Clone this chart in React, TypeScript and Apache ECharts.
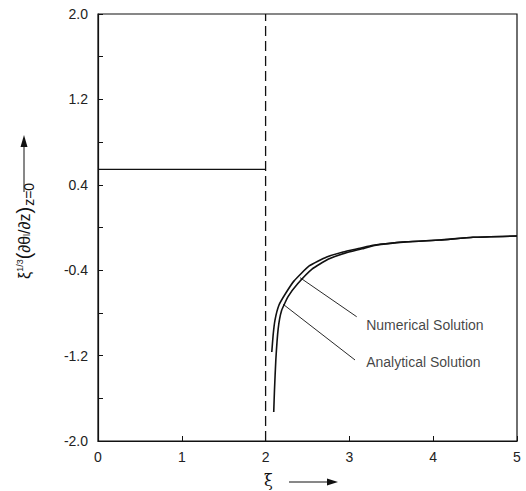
import React, { useEffect, useRef } from "react";
import * as echarts from "echarts";

// Data
const stepLine: [number, number][] = [
  [0, 0.545],
  [2, 0.545],
];
const asymptote: [number, number][] = [
  [2, -2],
  [2, 2],
];
const numericalCurve: [number, number][] = [
  [2.074, -1.166],
  [2.09, -1.007],
  [2.112, -0.867],
  [2.16, -0.726],
  [2.24, -0.616],
  [2.34, -0.5],
  [2.52, -0.36],
  [2.729, -0.276],
  [2.924, -0.229],
  [3.126, -0.194],
  [3.28, -0.166],
  [3.68, -0.134],
  [4.08, -0.117],
  [4.475, -0.092],
  [5.0, -0.08],
];
const analyticalCurve: [number, number][] = [
  [2.097, -1.728],
  [2.106, -1.522],
  [2.122, -1.241],
  [2.15, -0.95],
  [2.19, -0.78],
  [2.27, -0.646],
  [2.38, -0.53],
  [2.554, -0.39],
  [2.745, -0.298],
  [2.947, -0.24],
  [3.15, -0.2],
  [3.3, -0.168],
  [3.68, -0.135],
  [4.08, -0.117],
  [4.475, -0.092],
  [5.0, -0.08],
];
const numericalPointer: [number, number][] = [
  [2.411, -0.47],
  [3.087, -0.836],
];
const analyticalPointer: [number, number][] = [
  [2.211, -0.72],
  [3.067, -1.241],
];
const labelTexts = ["Numerical Solution", "Analytical Solution"];
const labelPositions: [number, number][] = [
  [3.2, -0.913],
  [3.2, -1.257],
];
const yLabeled = [2.0, 1.2, 0.4, -0.4, -1.2, -2.0];

const FONT = "'Liberation Sans', Arial, Helvetica, sans-serif";

export default function App() {
  const ref = useRef<HTMLDivElement>(null);
  useEffect(() => {
    if (!ref.current) return;
    const chart = echarts.init(ref.current, undefined, { renderer: "svg" });
    const black = "#111";
    const option: any = {
      animation: false,
      backgroundColor: "#fff",
      grid: {
        left: 98,
        right: 9,
        top: 14,
        bottom: 50,
        show: true,
        borderColor: black,
        borderWidth: 1.2,
        containLabel: false,
        outerBoundsMode: "none",
      },
      xAxis: {
        type: "value",
        min: 0,
        max: 5,
        interval: 1,
        axisLine: { show: true, onZero: false, lineStyle: { color: black, width: 1.2 } },
        axisTick: { show: true, inside: true, length: 5, lineStyle: { color: black } },
        splitLine: { show: false },
        axisLabel: { color: "#222", fontSize: 14, fontFamily: FONT, margin: 9 },
      },
      yAxis: {
        type: "value",
        min: -2,
        max: 2,
        interval: 0.4,
        axisLine: { show: true, onZero: false, lineStyle: { color: black, width: 1.2 } },
        axisTick: { show: true, inside: true, length: 5, lineStyle: { color: black } },
        splitLine: { show: false },
        axisLabel: {
          color: "#222",
          fontSize: 14,
          fontFamily: FONT,
          margin: 10,
          formatter: (v: number) => {
            const hit = yLabeled.find((t) => Math.abs(t - v) < 1e-6);
            return hit === undefined ? "" : hit.toFixed(1);
          },
        },
      },
      series: [
        {
          type: "line",
          data: stepLine,
          symbol: "none",
          lineStyle: { color: black, width: 1.3 },
        },
        {
          type: "line",
          data: asymptote,
          symbol: "none",
          lineStyle: { color: black, width: 1.3, type: [10, 5] },
        },
        {
          type: "line",
          data: numericalCurve,
          symbol: "none",
          smooth: 0.15,
          lineStyle: { color: black, width: 1.6 },
        },
        {
          type: "line",
          data: analyticalCurve,
          symbol: "none",
          smooth: 0.15,
          lineStyle: { color: black, width: 1.6 },
        },
        {
          type: "line",
          data: numericalPointer,
          symbol: "none",
          lineStyle: { color: black, width: 0.9 },
        },
        {
          type: "line",
          data: analyticalPointer,
          symbol: "none",
          lineStyle: { color: black, width: 0.9 },
        },
        {
          type: "scatter",
          symbolSize: 0,
          data: labelPositions.map((p, i) => ({ value: p, name: labelTexts[i] })),
          label: {
            show: true,
            position: "right",
            distance: 0,
            formatter: (p: any) => p.name,
            color: "#111",
            fontSize: 14,
            fontFamily: FONT,
          },
        },
      ],
      graphic: [
        {
          type: "text",
          left: 264,
          top: 472,
          style: { text: "ξ", fontSize: 16, fontFamily: "'DejaVu Serif', serif", fill: "#111" },
        },
        {
          type: "line",
          shape: { x1: 289, y1: 482, x2: 330, y2: 482 },
          style: { stroke: "#111", lineWidth: 1 },
        },
        {
          type: "polygon",
          shape: { points: [[338, 482], [327, 478.5], [327, 485.5]] },
          style: { fill: "#111" },
        },
        {
          type: "text",
          x: 12,
          y: 279,
          rotation: Math.PI / 2,
          style: {
            text: "{a|ξ}{s|1/3}{p|(}{a|∂θ}{l|l}{a|/∂z}{p|)}{z|z=0}",
            fill: "#111",
            fontFamily: FONT,
            verticalAlign: "top",
            rich: {
              a: { fontSize: 16, fontFamily: FONT, fill: "#111" },
              p: { fontSize: 20, fontFamily: FONT, fill: "#111" },
              s: { fontSize: 9, fontFamily: FONT, fill: "#111", padding: [0, 0, 9, 0] },
              l: { fontSize: 9, fontFamily: FONT, fill: "#111", padding: [6, 0, 0, 0] },
              z: { fontSize: 14, fontFamily: FONT, fill: "#111", padding: [10, 0, 0, 1] },
            },
          },
        },
        {
          type: "line",
          shape: { x1: 24, y1: 192, x2: 24, y2: 145 },
          style: { stroke: "#111", lineWidth: 1 },
        },
        {
          type: "polygon",
          shape: { points: [[24, 135], [20.5, 147], [27.5, 147]] },
          style: { fill: "#111" },
        },
      ],
    };
    chart.setOption(option);
    return () => chart.dispose();
  }, []);
  return (
    <div
      ref={ref}
      style={{ position: "absolute", left: 0, top: 0, width: 526, height: 491 }}
    />
  );
}
